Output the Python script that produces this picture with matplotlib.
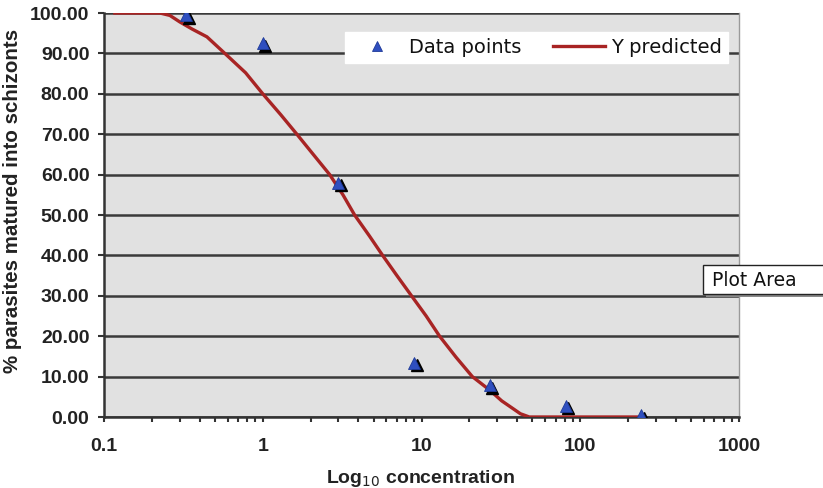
import matplotlib
matplotlib.use("Agg")
import matplotlib.pyplot as plt
import matplotlib.transforms as mtransforms
from matplotlib.patches import Rectangle
from matplotlib.ticker import FixedLocator, LogLocator, NullFormatter

# Data points (triangles)
conc = [0.33, 1.0, 3.0, 9.0, 27.0, 81.0, 243.0]
pct = [99.4, 92.5, 58.0, 13.4, 7.9, 2.8, 0.4]

# Y predicted curve
fit_x = [0.117, 0.225, 0.26, 0.30, 0.36, 0.445, 0.577, 0.78, 1.0, 1.3, 1.64, 2.1,
         2.64, 3.2, 3.79, 4.7, 5.69, 7.0, 8.65, 10.7, 13.0, 16.5, 20.9, 26.8,
         32.0, 37.3, 42.0, 47.8, 250.0]
fit_y = [100.0, 100.0, 99.4, 97.8, 96.0, 94.1, 90.0, 85.2, 80.0, 74.8, 70.0, 64.8,
         60.0, 55.0, 50.0, 44.8, 40.0, 35.0, 30.0, 25.0, 20.0, 14.8, 10.0, 6.7,
         4.0, 2.2, 0.8, 0.0, 0.0]

yticks = [0, 10, 20, 30, 40, 50, 60, 70, 80, 90, 100]
xticks = [0.1, 1, 10, 100, 1000]
xticklabels = ["0.1", "1", "10", "100", "1000"]

FONT = ["Liberation Sans", "DejaVu Sans"]
WIDE = ["DejaVu Sans"]
plt.rcParams["font.family"] = FONT

W, H = 823, 488
fig = plt.figure(figsize=(W/100, H/100), dpi=100)
ax = fig.add_axes([104/W, 1 - 417/H, (739-104)/W, (417-13)/H])
ax.set_facecolor("#e1e1e1")

ax.set_xscale("log")
ax.set_xlim(0.1, 1000)
ax.set_ylim(0, 100)

for y in yticks:
    ax.axhline(y, color="#3a3a3a", lw=1.8, zorder=1)

ax.plot(fit_x, fit_y, color="#a82424", lw=2.4, zorder=3, label="Y predicted")

shadow = mtransforms.offset_copy(ax.transData, fig=fig, x=2.5, y=-2.5, units="dots")
ax.plot(conc, pct, linestyle="none", marker="^", ms=9, color="black",
        transform=shadow, zorder=4)
ax.plot(conc, pct, linestyle="none", marker="^", ms=9, color="#2f4fbf",
        markeredgecolor="#1e3a99", markeredgewidth=0.6, zorder=5, label="Data points")

ax.yaxis.set_major_locator(FixedLocator(yticks))
ax.set_yticklabels([f"{v:.2f}" for v in yticks], fontsize=14, fontweight="bold",
                   color="#222222")
ax.xaxis.set_major_locator(FixedLocator(xticks))
ax.set_xticklabels(xticklabels, fontsize=14, fontweight="bold", color="#222222")
ax.xaxis.set_minor_locator(LogLocator(base=10, subs=range(2, 10)))
ax.xaxis.set_minor_formatter(NullFormatter())
ax.tick_params(axis="x", which="both", direction="out", length=3.6, width=1.5,
               color="#333333", pad=11.5)
ax.tick_params(axis="y", which="major", direction="out", length=4.5, width=1.5,
               color="#333333", pad=6)

for s in ["left", "bottom"]:
    ax.spines[s].set_color("#333333")
    ax.spines[s].set_linewidth(1.8)
ax.spines["top"].set_visible(False)
ax.spines["right"].set_color("#9a9a9a")
ax.spines["right"].set_linewidth(1.0)

fig.text(13/W, 1 - 201/H, "% parasites matured into schizonts", rotation=90,
         fontsize=14.8, fontweight="bold", color="#222222", ha="center", va="center")
ax.set_xlabel(r"Log$_{10}$ concentration", fontsize=14, fontweight="bold", color="#222222")
ax.xaxis.set_label_coords((421-104)/635, (417-468)/404)

handles, labels = ax.get_legend_handles_labels()
leg = ax.legend(handles[::-1], labels[::-1], loc="upper right",
                bbox_to_anchor=(728/W, 1 - 32/H), bbox_transform=fig.transFigure,
                borderaxespad=0,
                ncol=2, frameon=True, fancybox=False, framealpha=1,
                edgecolor="white", facecolor="white",
                handlelength=2.7, columnspacing=1.6, handletextpad=0.3,
                borderpad=0.3, markerscale=0.85,
                prop={"family": WIDE, "size": 14})
for t in leg.get_texts():
    t.set_color("#111111")

# "Plot Area" tooltip
fig.patches.append(Rectangle((706/W, 1 - 297/H), 120/W, 29/H, transform=fig.transFigure,
                             facecolor="#8a8a8a", edgecolor="none", zorder=9))
fig.patches.append(Rectangle((703/W, 1 - 294/H), 125/W, 29/H, transform=fig.transFigure,
                             facecolor="white", edgecolor="#222222", lw=1.0, zorder=10))
fig.text(712/W, 1 - 281/H, "Plot Area", fontsize=13.5, ha="left", va="center",
         family=WIDE, color="#111111", zorder=11)

fig.savefig("out.png", dpi=100)
